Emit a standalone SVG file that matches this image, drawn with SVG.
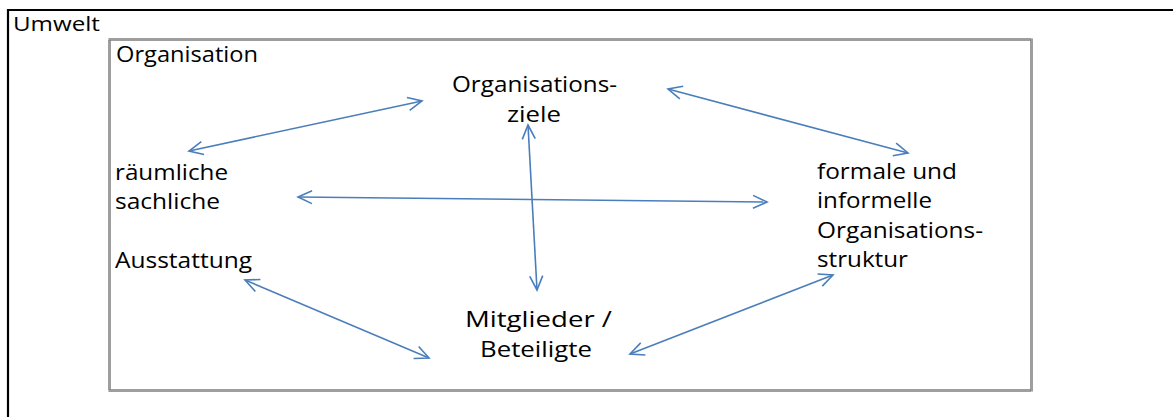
<svg xmlns="http://www.w3.org/2000/svg" width="1173" height="417" viewBox="0 0 1173 417">
  <style>
    .lbl { font-family: "Open Sans", "Noto Sans", sans-serif; fill: #000; }
    .link { stroke: #4a7ebb; stroke-width: 1.6; fill: none; marker-start: url(#head); marker-end: url(#head); }
    .frame { fill: none; stroke-width: 3; }
  </style>
  <defs>
    <marker id="head" markerUnits="userSpaceOnUse" viewBox="-16 -8 18 16" refX="0" refY="0" markerWidth="18" markerHeight="16" orient="auto-start-reverse">
      <path d="M-14,-6.5 L0,0 L-14,6.5" fill="none" stroke="#4a7ebb" stroke-width="1.6"/>
    </marker>
  </defs>

  <rect width="1173" height="417" fill="#fff"/>

  <!-- Umwelt: outer frame, open to the right and bottom -->
  <g id="umwelt">
    <path d="M8,420 L8,10 L1180,10" fill="none" stroke="#000" stroke-width="2.2"/>
    <text class="lbl" font-size="20" x="13" y="31" textLength="87" lengthAdjust="spacingAndGlyphs">Umwelt</text>
  </g>

  <!-- Organisation: inner frame with a stippled grey border -->
  <g id="organisation" font-size="22">
    <rect class="frame" x="109.5" y="39.5" width="922" height="351" stroke="#c8c8c8"/>
    <rect class="frame" x="109.5" y="39.5" width="922" height="351" stroke="#747474" stroke-dasharray="1 1"/>
    <text class="lbl" x="116" y="62" textLength="142" lengthAdjust="spacingAndGlyphs">Organisation</text>
  </g>

  <g id="ziele" font-size="22">
    <text class="lbl" x="452" y="92" textLength="165" lengthAdjust="spacingAndGlyphs">Organisations-</text>
    <text class="lbl" x="507" y="122" textLength="54" lengthAdjust="spacingAndGlyphs">ziele</text>
  </g>

  <g id="ausstattung" font-size="22">
    <text class="lbl" x="115" y="180" textLength="113" lengthAdjust="spacingAndGlyphs">räumliche</text>
    <text class="lbl" x="115" y="209" textLength="105" lengthAdjust="spacingAndGlyphs">sachliche</text>
    <text class="lbl" x="115" y="268" textLength="137" lengthAdjust="spacingAndGlyphs">Ausstattung</text>
  </g>

  <g id="struktur" font-size="22">
    <text class="lbl" x="817" y="179" textLength="140" lengthAdjust="spacingAndGlyphs">formale und</text>
    <text class="lbl" x="817" y="208" textLength="115" lengthAdjust="spacingAndGlyphs">informelle</text>
    <text class="lbl" x="817" y="238" textLength="166" lengthAdjust="spacingAndGlyphs">Organisations-</text>
    <text class="lbl" x="817" y="267" textLength="91" lengthAdjust="spacingAndGlyphs">struktur</text>
  </g>

  <g id="mitglieder" font-size="22">
    <text class="lbl" x="465" y="327" textLength="147" lengthAdjust="spacingAndGlyphs">Mitglieder /</text>
    <text class="lbl" x="480" y="357" textLength="112" lengthAdjust="spacingAndGlyphs">Beteiligte</text>
  </g>

  <!-- Two-way relations between the elements -->
  <g id="connectors">
    <line class="link" x1="189" y1="151" x2="422" y2="101"/>
    <line class="link" x1="668" y1="89" x2="908" y2="153"/>
    <line class="link" x1="298" y1="197" x2="767" y2="202"/>
    <line class="link" x1="528" y1="125" x2="537" y2="290"/>
    <line class="link" x1="245" y1="280" x2="429" y2="358"/>
    <line class="link" x1="630" y1="354" x2="833" y2="275"/>
  </g>
</svg>
